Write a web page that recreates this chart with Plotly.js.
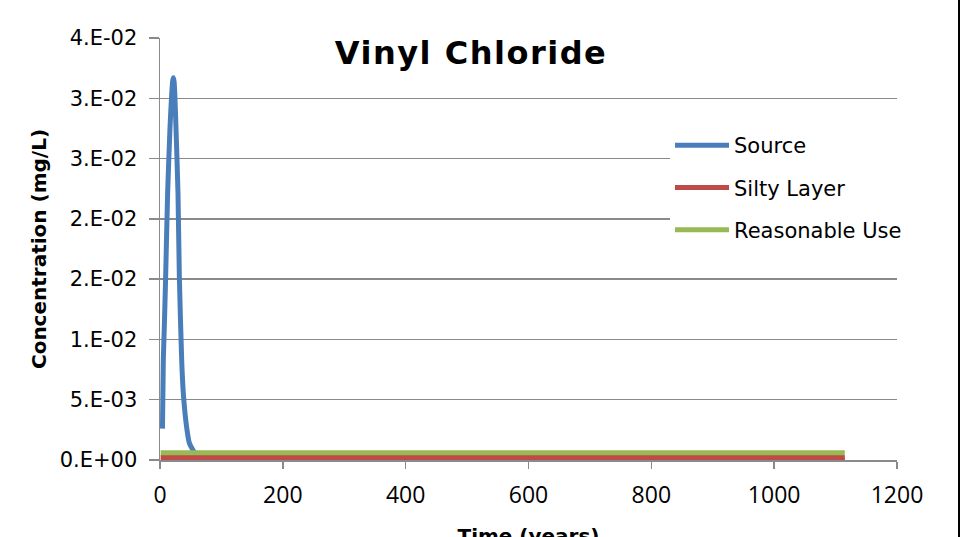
<!DOCTYPE html>
<html>
<head>
<meta charset="utf-8">
<script src="https://cdn.plot.ly/plotly-3.0.1.min.js"></script>
<style>
  html, body { margin: 0; padding: 0; background: #fff; overflow: hidden; width: 960px; height: 537px; }
  #wrap { position: relative; width: 960px; height: 537px; overflow: hidden; }
  #chart { width: 960px; height: 548px; }
  #chart .gtitle { letter-spacing: 1.5px; }
  #edge { position: absolute; left: 957.5px; top: 0; width: 2.5px; height: 537px; background: #000; z-index: 10; }
</style>
</head>
<body>
<div id="wrap"><div id="chart"></div><div id="edge"></div></div>
<script>
// Time (years)
const sourceTime = [4, 5.4, 7, 9.2, 12.4, 16.3, 19, 20.6, 21.7, 22.9, 24, 26, 29.3, 31.5, 35.3, 38, 43.4, 47.8, 54, 60, 70, 80, 100, 200, 300, 400, 500, 600, 700, 800, 900, 1000, 1115];
// Concentration (mg/L)
const sourceConc = [0.0026, 0.0083, 0.0110, 0.0152, 0.0221, 0.0276, 0.0303, 0.0314, 0.0317, 0.0314, 0.0305, 0.0276, 0.0221, 0.0152, 0.0083, 0.0055, 0.0027, 0.0014, 0.0008, 0.0003, 0.0001, 0.00002, 0, 0, 0, 0, 0, 0, 0, 0, 0, 0, 0];

const siltyTime = [1, 1115];
const siltyConc = [0.0002, 0.0002];

const useTime = [1, 1115];
const useConc = [0.0006, 0.0006];

const seriesNames = ["Source", "Silty Layer", "Reasonable Use"];
const seriesColors = ["#4A7EBB", "#BE4B48", "#98B954"];

const yTickVals = [0, 0.005, 0.01, 0.015, 0.02, 0.025, 0.03, 0.035];
const yTickText = ["0.E+00", "5.E-03", "1.E-02", "2.E-02", "2.E-02", "3.E-02", "3.E-02", "4.E-02"];
const xTickVals = [0, 200, 400, 600, 800, 1000, 1200];

const traces = [
  {x: sourceTime, y: sourceConc, name: seriesNames[0], legendgroup: "a"},
  {x: siltyTime, y: siltyConc, name: seriesNames[1], legendgroup: "b"},
  {x: useTime, y: useConc, name: seriesNames[2], legendgroup: "c"}
].map((t, i) => Object.assign(t, {
  type: "scatter", mode: "lines",
  line: {color: seriesColors[i], width: 5, shape: i === 0 ? "spline" : "linear", smoothing: 0.6}
}));

const gridColor = "#8A8A8A";
const H = 548;

const layout = {
  width: 960, height: H,
  margin: {l: 160, r: 63, t: 38, b: H - 460, pad: 0},
  paper_bgcolor: "#fff", plot_bgcolor: "#fff",
  showlegend: true,
  title: {
    text: "<b>Vinyl Chloride</b>",
    font: {family: "DejaVu Sans", size: 32, color: "#000"},
    xref: "container", yref: "container",
    x: 471 / 960, xanchor: "center",
    y: 1 - 53 / H, yanchor: "middle"
  },
  xaxis: {
    range: [0, 1200],
    tickvals: xTickVals,
    showgrid: false, zeroline: false,
    showline: true, linecolor: gridColor, linewidth: 1.5,
    ticks: "outside", ticklen: 7, tickcolor: gridColor, tickwidth: 1.5,
    ticklabelstandoff: 7,
    tickfont: {family: "Open Sans", size: 23, color: "#000"},
    title: {
      text: "<b>Time (years)</b>",
      font: {family: "DejaVu Sans", size: 20, color: "#000"},
      standoff: 26
    },
    automargin: false
  },
  yaxis: {
    range: [0, 0.035],
    tickvals: yTickVals, ticktext: yTickText,
    showgrid: true, gridcolor: gridColor, gridwidth: 1.5,
    zeroline: false,
    showline: true, linecolor: gridColor, linewidth: 1.5,
    ticks: "outside", ticklen: 10, tickcolor: gridColor, tickwidth: 1.5,
    ticklabelstandoff: 7,
    tickfont: {family: "DejaVu Sans", size: 21, color: "#000"},
    title: {
      text: "<b>Concentration (mg/L)</b>",
      font: {family: "DejaVu Sans", size: 20, color: "#000"},
      standoff: 7
    },
    automargin: false
  },
  legend: {
    x: (670 - 160) / 737, xanchor: "left",
    y: 1 - (125 - 38) / 422, yanchor: "top",
    bgcolor: "#fff", borderwidth: 0,
    font: {family: "DejaVu Sans", size: 21, color: "#000"},
    tracegroupgap: 12,
    itemwidth: 54
  }
};

Plotly.newPlot("chart", traces, layout, {staticPlot: true});
</script>
</body>
</html>
